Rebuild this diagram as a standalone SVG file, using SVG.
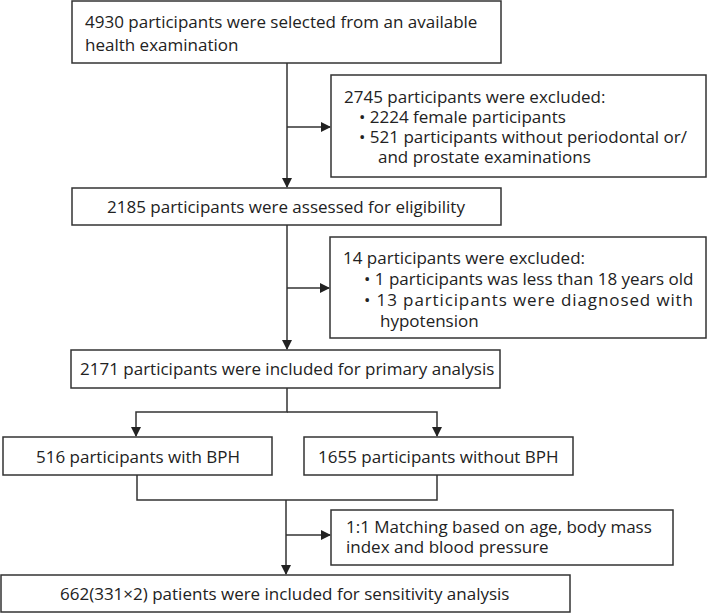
<svg xmlns="http://www.w3.org/2000/svg" width="709" height="614" viewBox="0 0 709 614">
<defs>
<marker id="ah" markerWidth="10" markerHeight="10" refX="9" refY="5" orient="auto" markerUnits="userSpaceOnUse">
<path d="M0,0 L10,5 L0,10 Z" fill="#222"/>
</marker>
<style>
.box{fill:#fff;stroke:#333;stroke-width:1.5}
.t{font-family:"Open Sans","Noto Sans","DejaVu Sans",sans-serif;font-size:17px;fill:#222}
.c{fill:none;stroke:#333;stroke-width:1.5}
</style>
</defs>
<rect width="709" height="614" fill="#fff"/>
<g id="connectors">
<line class="c" x1="287" y1="63" x2="287" y2="187" marker-end="url(#ah)"/>
<line class="c" x1="287" y1="127" x2="330" y2="127" marker-end="url(#ah)"/>
<line class="c" x1="287" y1="225" x2="287" y2="349" marker-end="url(#ah)"/>
<line class="c" x1="287" y1="288" x2="329" y2="288" marker-end="url(#ah)"/>
<polyline class="c" points="287,388 287,412 136,412 136,436" marker-end="url(#ah)"/>
<polyline class="c" points="287,412 437,412 437,436" marker-end="url(#ah)"/>
<polyline class="c" points="137,475 137,500 437,500 437,475"/>
<line class="c" x1="286" y1="500" x2="286" y2="574" marker-end="url(#ah)"/>
<line class="c" x1="286" y1="535" x2="330" y2="535" marker-end="url(#ah)"/>
</g>
<g id="n1">
<rect class="box" x="72" y="1" width="429" height="62"/>
<text class="t" x="85" y="28">4930 participants were selected from an available</text>
<text class="t" x="85" y="51">health examination</text>
</g>
<g id="n2">
<rect class="box" x="331" y="75" width="375" height="102"/>
<text class="t" x="344" y="103">2745 participants were excluded:</text>
<text class="t" x="359" y="123">• 2224 female participants</text>
<text class="t" x="359" y="143">• 521 participants without periodontal or/</text>
<text class="t" x="378" y="163">and prostate examinations</text>
</g>
<g id="n3">
<rect class="box" x="72" y="188" width="429" height="37"/>
<text class="t" x="107" y="213">2185 participants were assessed for eligibility</text>
</g>
<g id="n4">
<rect class="box" x="330" y="237" width="376" height="101"/>
<text class="t" x="343" y="264">14 participants were excluded:</text>
<text class="t" x="364" y="285">• 1 participants was less than 18 years old</text>
<text class="t" x="364" y="306" textLength="329" lengthAdjust="spacing">• 13 participants were diagnosed with</text>
<text class="t" x="380" y="327">hypotension</text>
</g>
<g id="n5">
<rect class="box" x="71" y="350" width="429" height="38"/>
<text class="t" x="80" y="375">2171 participants were included for primary analysis</text>
</g>
<g id="n6">
<rect class="box" x="3" y="437" width="269" height="38"/>
<text class="t" x="36" y="463">516 participants with BPH</text>
</g>
<g id="n7">
<rect class="box" x="304" y="437" width="269" height="38"/>
<text class="t" x="318" y="463">1655 participants without BPH</text>
</g>
<g id="n8">
<rect class="box" x="331" y="510" width="342" height="55"/>
<text class="t" x="346" y="533">1:1 Matching based on age, body mass</text>
<text class="t" x="346" y="553">index and blood pressure</text>
</g>
<g id="n9">
<rect class="box" x="1" y="575" width="569" height="37"/>
<text class="t" x="60" y="600">662(331×2) patients were included for sensitivity analysis</text>
</g>
</svg>
